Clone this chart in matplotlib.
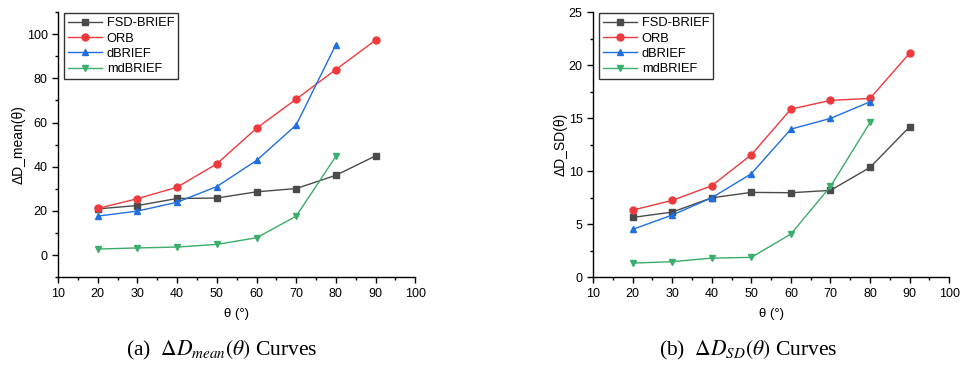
import numpy as np
import matplotlib
matplotlib.use("Agg")
import matplotlib.pyplot as plt
from matplotlib.ticker import MultipleLocator

plt.rcParams["font.family"] = ["Liberation Sans", "DejaVu Sans"]
plt.rcParams["mathtext.fontset"] = "stix"

theta = [20, 30, 40, 50, 60, 70, 80, 90]
theta_short = [20, 30, 40, 50, 60, 70, 80]

# panel (a): Delta D_mean(theta)
mean_fsd = [20.9, 22.4, 25.6, 25.8, 28.6, 30.1, 36.1, 44.9]
mean_orb = [21.1, 25.5, 30.7, 41.3, 57.4, 70.6, 84.0, 97.3]
mean_dbrief = [17.6, 19.9, 23.9, 31.0, 42.8, 58.9, 95.3]
mean_mdbrief = [2.7, 3.2, 3.6, 4.8, 7.8, 17.6, 44.7]

# panel (b): Delta D_SD(theta)
sd_fsd = [5.63, 6.13, 7.48, 7.99, 7.96, 8.18, 10.35, 14.18]
sd_orb = [6.32, 7.23, 8.62, 11.54, 15.85, 16.67, 16.86, 21.13]
sd_dbrief = [4.50, 5.85, 7.48, 9.75, 13.96, 14.97, 16.54]
sd_mdbrief = [1.32, 1.45, 1.79, 1.86, 4.06, 8.55, 14.59]

labels = ["FSD-BRIEF", "ORB", "dBRIEF", "mdBRIEF"]
colors = ["#4a4a4a", "#f0393c", "#1f6fe0", "#3aae6a"]
markers = ["s", "o", "^", "v"]


def draw(ax, series, ylim, ymajor, ylabel):
    xs = [theta, theta, theta_short, theta_short]
    for x, y, lab, c, m in zip(xs, series, labels, colors, markers):
        ax.plot(x, y, color=c, marker=m, markersize=5, linewidth=1.0,
                label=lab)
    ax.set_xlim(10, 100)
    ax.set_ylim(*ylim)
    ax.xaxis.set_major_locator(MultipleLocator(10))
    ax.xaxis.set_minor_locator(MultipleLocator(5))
    ax.yaxis.set_major_locator(MultipleLocator(ymajor))
    ax.yaxis.set_minor_locator(MultipleLocator(ymajor / 2))
    for s in ("top", "right"):
        ax.spines[s].set_visible(False)
    ax.spines["left"].set_linewidth(1.0)
    ax.spines["bottom"].set_linewidth(1.0)
    ax.tick_params(which="major", direction="out", length=4, width=1,
                   labelsize=9)
    ax.tick_params(which="minor", direction="out", length=2, width=1)
    ax.set_xlabel("θ (°)", fontsize=9.5, labelpad=6)
    ax.set_ylabel(ylabel, fontsize=10, labelpad=1)
    leg = ax.legend(loc="upper left", bbox_to_anchor=(0.01, 1.005),
                    fontsize=9.3, frameon=True, fancybox=False,
                    handlelength=2.6, handletextpad=0.4, borderpad=0.3,
                    labelspacing=0.25, borderaxespad=0.2)
    leg.get_frame().set_edgecolor("black")
    leg.get_frame().set_linewidth(1.0)


fig = plt.figure(figsize=(9.68, 3.67), dpi=100)
ax1 = fig.add_axes([0.060, 0.245, 0.369, 0.722])
ax2 = fig.add_axes([0.6126, 0.245, 0.368, 0.722])

draw(ax1, [mean_fsd, mean_orb, mean_dbrief, mean_mdbrief], (-10, 110), 20,
     "ΔD_mean(θ)")
draw(ax2, [sd_fsd, sd_orb, sd_dbrief, sd_mdbrief], (0, 25), 5,
     "ΔD_SD(θ)")

fig.text(0.229, 0.046, r"(a)  $\Delta D_{mean}(\theta)$ Curves", ha="center",
         va="center", fontsize=15.5, family="Liberation Serif")
fig.text(0.773, 0.046, r"(b)  $\Delta D_{SD}(\theta)$ Curves", ha="center",
         va="center", fontsize=15.5, family="Liberation Serif")

fig.savefig("out.png", dpi=100)
